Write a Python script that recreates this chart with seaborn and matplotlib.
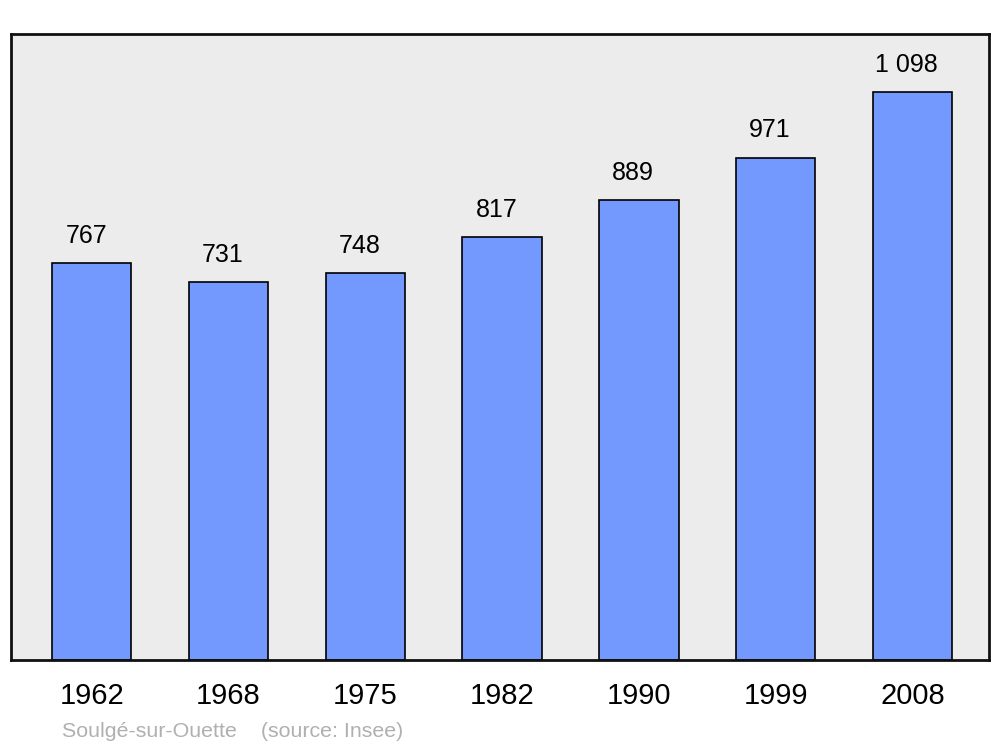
import matplotlib
matplotlib.use('Agg')
import matplotlib.pyplot as plt
import seaborn as sns
import pandas as pd

years = ['1962', '1968', '1975', '1982', '1990', '1999', '2008']
population = [767, 731, 748, 817, 889, 971, 1098]
value_labels = ['767', '731', '748', '817', '889', '971', '1 098']
footer = 'Soulgé-sur-Ouette    (source: Insee)'

df = pd.DataFrame({'year': years, 'pop': population})

sns.set_style('white')
plt.rcParams['font.family'] = ['Liberation Sans', 'DejaVu Sans']
plt.rcParams['text.color'] = 'black'
plt.rcParams['xtick.color'] = 'black'

fig = plt.figure(figsize=(10, 7.47), dpi=100)
ax = fig.add_axes([0.011, 0.1165, 0.978, 0.838])
ax.set_facecolor('#ececec')

sns.barplot(data=df, x='year', y='pop', color='#7399ff', saturation=1,
            width=0.58, edgecolor='black', linewidth=1.2, ax=ax)

for i, (v, lab) in enumerate(zip(population, value_labels)):
    ax.annotate(lab, (i, v), xytext=(-4, 11), textcoords='offset points',
                ha='center', va='bottom', fontsize=18, color='black')

ax.set_xlim(-0.59, 6.56)
ax.set_ylim(0, 1210)
ax.set_yticks([])
ax.set_xlabel('')
ax.set_ylabel('')
ax.tick_params(axis='x', length=0, labelsize=21, pad=16, labelcolor='black')
for s in ax.spines.values():
    s.set_visible(True)
    s.set_color('#111111')
    s.set_linewidth(2)

fig.text(0.062, 0.008, footer, fontsize=15.4, color='#b0b0b0', ha='left', va='bottom')

fig.savefig('out.png', dpi=100)
